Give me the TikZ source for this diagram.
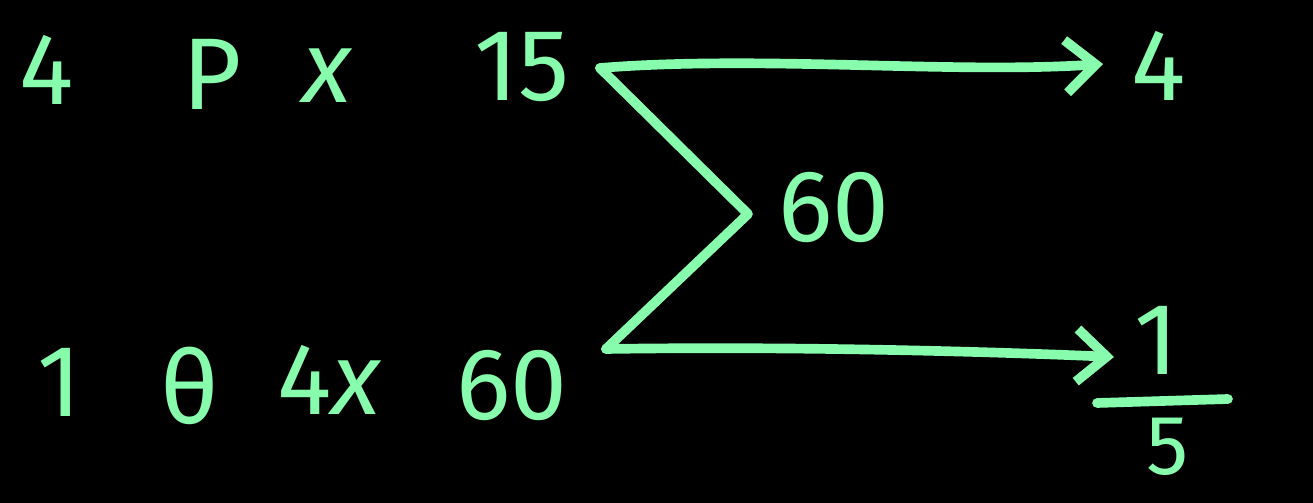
\documentclass[tikz,border=0pt]{standalone}
\usepackage{fontspec}
\setmainfont{Fira Sans}
\usetikzlibrary{arrows.meta}
\definecolor{chalk}{RGB}{134,252,172}
\begin{document}
\begin{tikzpicture}[x=0.02cm,y=-0.02cm,
  txt/.style={text=chalk, font=\fontsize{58}{60}\selectfont, inner sep=0pt, anchor=center},
  stroke/.style={draw=chalk, line width=5.5pt, line cap=round, line join=round},
  arr/.style={stroke, -{Straight Barb[length=17pt,width=30pt,line width=5.5pt]}}]
\fill[black] (0,0) rectangle (1313,503);
\useasboundingbox (0,0) rectangle (1313,503);
% top row
\node[txt] (a4)  at (47,70)   {4};
\node[txt] (aP)  at (212,74)  {P};
\node[txt] (ax)  at (327,76)  {\itshape x};
\node[txt] (a15) at (522,67)  {15};
% bottom row
\node[txt] (b1)  at (60,382)  {1};
\node[txt] (bth) at (190,386) {θ};
\node[txt] (b4x) at (329,380) {4\itshape x};
\node[txt] (b60) at (512,386) {60};
% middle and right
\node[txt] (m60) at (834,208) {60};
\node[txt] (r4)  at (1159,66) {4};
\node[txt] (f1)  at (1157,340) {1};
\node[txt, font=\fontsize{48}{50}\selectfont] (f5) at (1168,447) {5};
\coordinate (barL) at (1097,403);
\coordinate (barR) at (1228,399);
\draw[stroke] (barL) -- (barR);
% connectors
\coordinate (j1) at (600,68);
\coordinate (jv) at (748,214);
\coordinate (j2) at (606,349);
\coordinate (t1) at (1103,64);
\coordinate (t2) at (1114,357);
\draw[stroke] (j1) -- (jv) -- (j2);
\draw[arr] (j1) .. controls (760,55) and (950,74) .. (t1);
\draw[arr] (j2) .. controls (800,346) and (1000,352) .. (t2);
\end{tikzpicture}
\end{document}
